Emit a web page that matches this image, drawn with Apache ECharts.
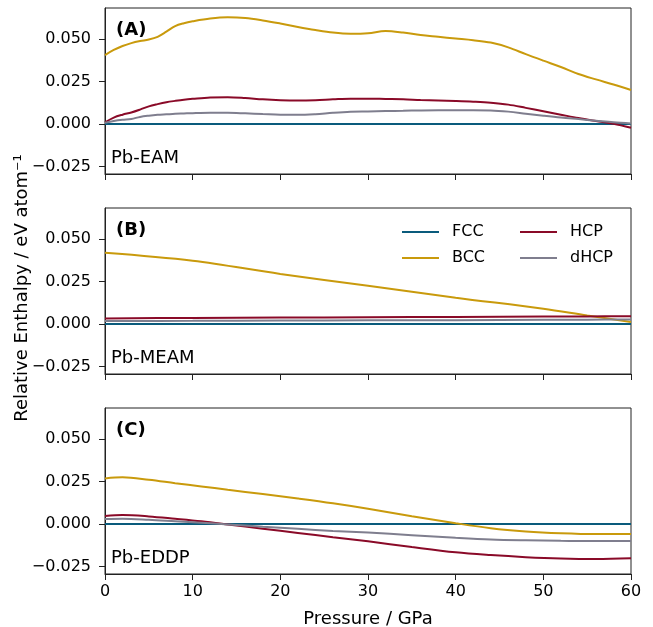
<!DOCTYPE html>
<html>
<head>
<meta charset="utf-8">
<script src="https://cdn.jsdelivr.net/npm/echarts@6/dist/echarts.min.js"></script>
<style>
  html, body { margin: 0; padding: 0; background: #fff; }
  #chart { width: 653px; height: 627px; }
</style>
</head>
<body>
<div id="chart"></div>
<script>
// Relative enthalpy (eV/atom) of Pb phases vs pressure (GPa), referenced to FCC
const phases = ['FCC', 'BCC', 'HCP', 'dHCP'];
const yTicks = [-0.025, 0, 0.025, 0.05];
const xTicks = [0, 10, 20, 30, 40, 50, 60];
const panelTags = ['(A)', '(B)', '(C)'];
const potentials = ['Pb-EAM', 'Pb-MEAM', 'Pb-EDDP'];

// Panel A: Pb-EAM
const pressureA = [0, 1, 2, 3, 4, 5, 6, 7, 8, 9, 10, 12, 14, 16, 18, 20, 22, 24, 26, 28, 30,
  32, 34, 36, 38, 40, 42, 44, 46, 48, 50, 52, 54, 56, 58, 60];
const fccA = pressureA.map(() => 0);
const bccA = [0.0405, 0.0435, 0.0458, 0.0475, 0.0487, 0.0496, 0.0512, 0.0542, 0.0575, 0.0592,
  0.0603, 0.0619, 0.0626, 0.0622, 0.0608, 0.0590, 0.0570, 0.0552, 0.0537, 0.0530, 0.0533,
  0.0546, 0.0537, 0.0522, 0.0512, 0.0502, 0.0492, 0.0478, 0.0450, 0.0410, 0.0372, 0.0335,
  0.0294, 0.0262, 0.0232, 0.0200];
const hcpA = [0.0010, 0.0038, 0.0055, 0.0068, 0.0085, 0.0104, 0.0117, 0.0128, 0.0136, 0.0143,
  0.0148, 0.0156, 0.0158, 0.0153, 0.0145, 0.0140, 0.0138, 0.0140, 0.0145, 0.0149, 0.0149,
  0.0147, 0.0145, 0.0141, 0.0138, 0.0135, 0.0131, 0.0125, 0.0114, 0.0095, 0.0075, 0.0055,
  0.0035, 0.0018, 0.0002, -0.0022];
const dhcpA = [0.0008, 0.0018, 0.0025, 0.0030, 0.0042, 0.0049, 0.0054, 0.0057, 0.0060, 0.0062,
  0.0064, 0.0066, 0.0066, 0.0063, 0.0059, 0.0055, 0.0054, 0.0058, 0.0066, 0.0072, 0.0074,
  0.0076, 0.0078, 0.0080, 0.0081, 0.0081, 0.0081, 0.0080, 0.0073, 0.0061, 0.0049, 0.0038,
  0.0029, 0.0020, 0.0011, 0.0004];

// Panel B: Pb-MEAM
const pressureB = [0, 10, 20, 30, 40, 50, 55, 60];
const fccB = pressureB.map(() => 0);
const bccB = [0.0419, 0.0372, 0.0294, 0.0225, 0.0155, 0.0090, 0.0050, 0.0012];
const hcpB = [0.0033, 0.0036, 0.0038, 0.0040, 0.0042, 0.0044, 0.0045, 0.0046];
const dhcpB = [0.0018, 0.0019, 0.0021, 0.0022, 0.0023, 0.0025, 0.0026, 0.0027];

// Panel C: Pb-EDDP
const pressureC = [0, 2, 5, 8, 11, 14, 18, 22, 26, 30, 35, 40, 44, 48, 52, 56, 60];
const fccC = pressureC.map(() => 0);
const bccC = [0.0268, 0.0274, 0.0260, 0.0240, 0.0221, 0.0201, 0.0176, 0.0150, 0.0122, 0.0090,
  0.0046, 0.0005, -0.0024, -0.0043, -0.0054, -0.0059, -0.0059];
const hcpC = [0.0047, 0.0053, 0.0045, 0.0031, 0.0016, -0.0002, -0.0027, -0.0052, -0.0077, -0.0101,
  -0.0135, -0.0166, -0.0182, -0.0194, -0.0202, -0.0205, -0.0201];
const dhcpC = [0.0029, 0.0031, 0.0025, 0.0016, 0.0007, -0.0002, -0.0016, -0.0028, -0.0040, -0.0050,
  -0.0065, -0.0080, -0.0090, -0.0095, -0.0098, -0.0100, -0.0100];

const panels = [
  { p: pressureA, v: [fccA, bccA, hcpA, dhcpA] },
  { p: pressureB, v: [fccB, bccB, hcpB, dhcpB] },
  { p: pressureC, v: [fccC, bccC, hcpC, dhcpC] }
];

const palette = { FCC: '#0a5b7c', BCC: '#c99a0c', HCP: '#8a0a28', dHCP: '#7f7e8e' };
const FONT = 'DejaVu Sans';
const INK = '#222';

const gridTops = [8, 208, 408];
const gridH = 166;
const gridLeft = 105;
const gridW = 526;

const grids = gridTops.map(t => ({
  left: gridLeft, top: t, width: gridW, height: gridH,
  show: true, borderColor: INK, borderWidth: 1, backgroundColor: 'transparent'
}));

const fmtY = v => (v < 0 ? '\u2212' : '') + Math.abs(v).toFixed(3);

const xAxes = gridTops.map((t, i) => ({
  type: 'value', gridIndex: i, min: 0, max: 60, interval: 10,
  axisLine: { show: true, onZero: false, lineStyle: { color: INK, width: 1 } },
  axisTick: { show: true, length: 6, lineStyle: { color: INK, width: 1 } },
  axisLabel: { show: i === 2, margin: 10, color: '#000', fontFamily: FONT, fontSize: 16 },
  splitLine: { show: false }
}));

const yAxes = gridTops.map((t, i) => ({
  type: 'value', gridIndex: i, min: -0.0293, max: 0.0681,
  axisLine: { show: true, onZero: false, lineStyle: { color: INK, width: 1 } },
  axisTick: { show: true, length: 6, customValues: yTicks, lineStyle: { color: INK, width: 1 } },
  axisLabel: { show: true, margin: 14, customValues: yTicks, formatter: fmtY,
    color: '#000', fontFamily: FONT, fontSize: 16 },
  splitLine: { show: false }
}));

const series = [];
panels.forEach((panel, i) => {
  phases.forEach((name, k) => {
    series.push({
      name, type: 'line', xAxisIndex: i, yAxisIndex: i,
      data: panel.p.map((x, j) => [x, panel.v[k][j]]),
      symbol: 'none', showSymbol: false, smooth: 0.35,
      lineStyle: { color: palette[name], width: 2 },
      itemStyle: { color: palette[name] },
      z: 2 + k, silent: true
    });
  });
});

const legendBase = {
  orient: 'vertical', padding: 0, itemWidth: 37, itemHeight: 16, itemGap: 10,
  icon: 'path://M0,7L37,7L37,9L0,9Z',
  textStyle: { fontFamily: FONT, fontSize: 16, color: '#000', padding: [0, 0, 0, 8] },
  selectedMode: false
};

const graphics = [];
gridTops.forEach((t, i) => {
  graphics.push({
    type: 'text', left: 116, top: t + 13,
    style: { text: panelTags[i], font: `bold 18px "${FONT}"`, fill: '#000' }
  });
  graphics.push({
    type: 'text', left: 111, top: t + 141,
    style: { text: potentials[i], font: `18px "${FONT}"`, fill: '#000' }
  });
});
graphics.push({
  type: 'text', x: 22, y: 288, rotation: Math.PI / 2,
  style: { text: 'Relative Enthalpy / eV atom\u207B\u00B9', font: `18px "${FONT}"`, fill: '#000',
    align: 'center', verticalAlign: 'middle' }
});
graphics.push({
  type: 'text', x: gridLeft + gridW / 2, y: 619,
  style: { text: 'Pressure / GPa', font: `18px "${FONT}"`, fill: '#000',
    align: 'center', verticalAlign: 'middle' }
});

const chart = echarts.init(document.getElementById('chart'), null, { renderer: 'canvas' });
chart.setOption({
  animation: false,
  backgroundColor: '#fff',
  grid: grids,
  xAxis: xAxes,
  yAxis: yAxes,
  legend: [
    Object.assign({}, legendBase, { left: 402, top: 224, data: ['FCC', 'BCC'] }),
    Object.assign({}, legendBase, { left: 520, top: 224, data: ['HCP', 'dHCP'] })
  ],
  graphic: graphics,
  series
});
</script>
</body>
</html>
